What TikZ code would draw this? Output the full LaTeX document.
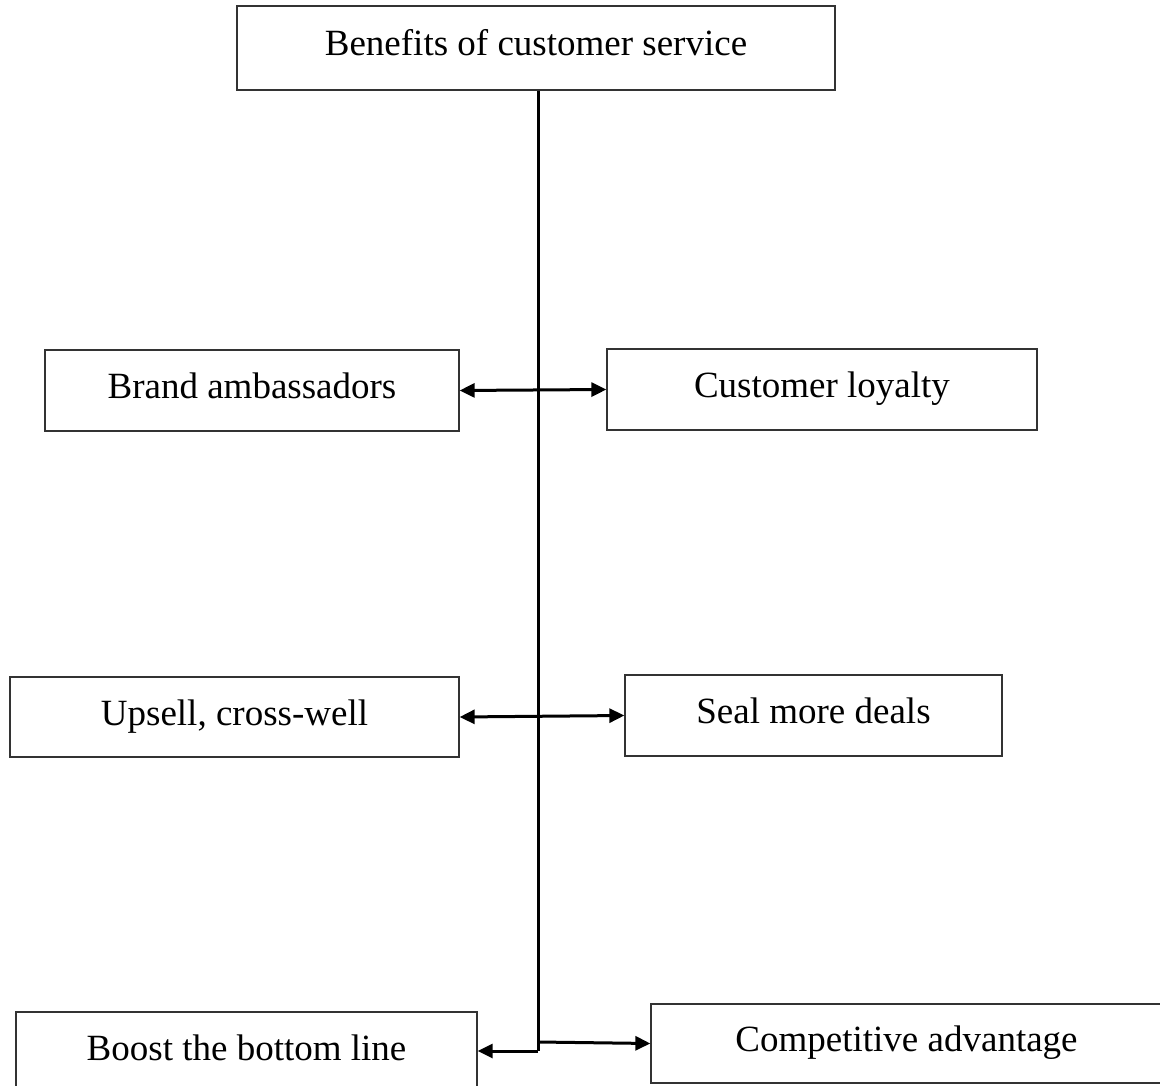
\documentclass[tikz,border=0pt]{standalone}
\usepackage{fontspec}
\setmainfont{Liberation Serif}
\usetikzlibrary{arrows.meta}
\begin{document}
\begin{tikzpicture}[x=1pt,y=-1pt,
  box/.style={draw=black!80, line width=1.3pt, inner sep=0pt,
    font=\fontsize{37}{44}\selectfont, text height=25pt, text depth=9pt},
  link/.style={line width=3pt, draw=black},
  tip/.style={-{Triangle[length=15pt,width=14pt]}},
  twotip/.style={{Triangle[length=15pt,width=14pt]}-{Triangle[length=15pt,width=14pt]}}]
\useasboundingbox (0,0) rectangle (1160,1086);
\begin{scope}
\clip (0,0) rectangle (1160,1086);
\node[box, minimum width=598, minimum height=84] (top) at (536,48) {Benefits of customer service};
\node[box, minimum width=414, minimum height=81] (ba) at (252,390.5) {Brand ambassadors};
\node[box, minimum width=430, minimum height=81] (cl) at (822,389.5) {Customer loyalty};
\node[box, minimum width=449, minimum height=80] (up) at (234.5,717) {Upsell, cross-well};
\node[box, minimum width=377, minimum height=81] (sm) at (813.5,715.5) {Seal more deals};
\node[box, minimum width=461, minimum height=80] (bb) at (246.5,1052) {Boost the bottom line};
\node[box, minimum width=511, minimum height=79] (ca) at (906.5,1043.5) {Competitive advantage};

\coordinate (sp) at (538,1051);
\coordinate (sp2) at (538,1042);

\draw[link] (sp |- top.south) -- (sp);
\draw[link, twotip] (ba.east) -- (cl.west);
\draw[link, twotip] (up.east) -- (sm.west);
\draw[link, tip] (sp) -- (bb.east |- sp);
\draw[link, tip] (sp2) -- (ca.west);
\end{scope}
\end{tikzpicture}
\end{document}
